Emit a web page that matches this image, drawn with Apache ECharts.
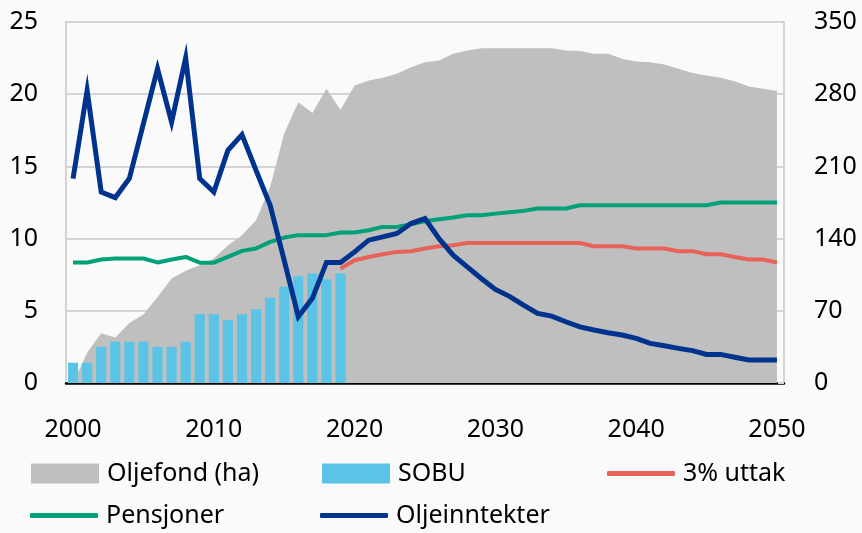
<!DOCTYPE html>
<html>
<head>
<meta charset="utf-8">
<script src="https://cdn.jsdelivr.net/npm/echarts@6/dist/echarts.min.js"></script>
<style>
  html, body { margin: 0; padding: 0; background: #fafafa; }
  #chart { width: 862px; height: 533px; }
</style>
</head>
<body>
<div id="chart"></div>
<script>
var years = [];
for (var y = 2000; y <= 2050; y++) years.push(String(y));

var leftTicks = [0, 5, 10, 15, 20, 25];
var rightTicks = [0, 70, 140, 210, 280, 350];

// Oljefond (ha), 2000-2050
var oljefond = [0, 2.1, 3.45, 3.15, 4.15, 4.75, 5.95, 7.24, 7.77, 8.16,
  8.62, 9.54, 10.24, 11.27, 13.58, 17.27, 19.45, 18.69, 20.38, 18.93,
  20.61, 20.95, 21.14, 21.42, 21.87, 22.22, 22.34, 22.8, 23.03, 23.19,
  23.19, 23.19, 23.19, 23.19, 23.19, 23.03, 23.0, 22.8, 22.8, 22.45,
  22.27, 22.22, 22.06, 21.76, 21.46, 21.3, 21.14, 20.9, 20.54, 20.38, 20.22];

// SOBU, 2000-2019
var sobu = [1.4, 1.4, 2.5, 2.86, 2.86, 2.86, 2.5, 2.5, 2.86, 4.77,
  4.77, 4.36, 4.77, 5.12, 5.9, 6.66, 7.4, 7.59, 7.19, 7.59];

// 3% uttak, from 2019
var uttak = [null, null, null, null, null, null, null, null, null, null,
  null, null, null, null, null, null, null, null, null, 7.93,
  8.5, 8.73, 8.92, 9.08, 9.12, 9.31, 9.47, 9.54, 9.7, 9.7,
  9.7, 9.7, 9.7, 9.7, 9.7, 9.7, 9.7, 9.47, 9.47, 9.47,
  9.31, 9.31, 9.31, 9.13, 9.13, 8.92, 8.92, 8.73, 8.55, 8.55, 8.35];

var pensjoner = [8.35, 8.35, 8.55, 8.62, 8.62, 8.62, 8.35, 8.55, 8.73, 8.33,
  8.33, 8.73, 9.15, 9.31, 9.77, 10.07, 10.24, 10.24, 10.24, 10.42,
  10.42, 10.58, 10.81, 10.81, 11.0, 11.2, 11.34, 11.46, 11.62, 11.62,
  11.73, 11.83, 11.92, 12.08, 12.08, 12.08, 12.31, 12.31, 12.31, 12.31,
  12.31, 12.31, 12.31, 12.31, 12.31, 12.31, 12.5, 12.5, 12.5, 12.5, 12.5];

var oljeinntekter = [14.16, 20.26, 13.23, 12.84, 14.16, 17.96, 21.76, 18.07, 22.52, 14.16,
  13.23, 16.11, 17.2, 14.73, 12.31, 8.5, 4.59, 5.86, 8.35, 8.35,
  9.08, 9.89, 10.12, 10.35, 11.04, 11.39, 10.0, 8.85, 8.04, 7.24,
  6.48, 6.0, 5.39, 4.82, 4.63, 4.24, 3.89, 3.67, 3.48, 3.32,
  3.09, 2.74, 2.58, 2.4, 2.24, 1.98, 1.98, 1.78, 1.59, 1.59, 1.59];

var font = "Noto Sans";
var gridGrey = "#d4d4d4";

// one legend per item so they sit in the same columns as the reference
function legendAt(name, left, top, icon, iconHeight) {
  return {
    data: [{ name: name, icon: icon }],
    left: left,
    top: top,
    padding: 0,
    itemWidth: 68,
    itemHeight: iconHeight,
    textStyle: { fontFamily: font, fontSize: 25, color: "#000", padding: [0, 0, 0, 3], lineHeight: 20 }
  };
}

var chart = echarts.init(document.getElementById("chart"));
chart.setOption({
  backgroundColor: "#fafafa",
  animation: false,
  grid: { left: 66, right: 78, top: 22, bottom: 150 },
  legend: [
    legendAt("Oljefond (ha)", 31, 461, "rect", 20),
    legendAt("SOBU", 322, 461, "rect", 20),
    legendAt("3% uttak", 607, 461, "roundRect", 5),
    legendAt("Pensjoner", 30, 503, "roundRect", 5),
    legendAt("Oljeinntekter", 320, 503, "roundRect", 5)
  ],
  xAxis: {
    type: "category",
    data: years,
    boundaryGap: true,
    axisLine: { lineStyle: { color: "#000", width: 2.5 } },
    axisTick: { inside: true, interval: 4, length: 9, lineStyle: { color: "#000", width: 2 } },
    axisLabel: { interval: 9, margin: 34, fontFamily: font, fontSize: 25, color: "#000" },
    splitLine: { show: false }
  },
  yAxis: [
    {
      type: "value",
      min: leftTicks[0],
      max: leftTicks[leftTicks.length - 1],
      interval: leftTicks[1] - leftTicks[0],
      axisLine: { show: true, lineStyle: { color: gridGrey, width: 2 } },
      axisTick: { show: false },
      axisLabel: { margin: 28, fontFamily: font, fontSize: 25, color: "#000" },
      splitLine: { lineStyle: { color: gridGrey, width: 2 } }
    },
    {
      type: "value",
      position: "right",
      min: rightTicks[0],
      max: rightTicks[rightTicks.length - 1],
      interval: rightTicks[1] - rightTicks[0],
      axisLine: { show: true, lineStyle: { color: gridGrey, width: 2 } },
      axisTick: { show: true, inside: true, length: 6, lineStyle: { color: gridGrey, width: 2 } },
      axisLabel: { margin: 30, fontFamily: font, fontSize: 25, color: "#000" },
      splitLine: { show: false }
    }
  ],
  series: [
    {
      name: "Oljefond (ha)",
      type: "line",
      data: oljefond,
      symbol: "none",
      color: "#bfbfbf",
      lineStyle: { width: 0 },
      areaStyle: { color: "#bfbfbf", opacity: 1 },
      z: 1
    },
    {
      name: "SOBU",
      type: "bar",
      data: sobu,
      color: "#5bc3e6",
      barCategoryGap: "28%",
      z: 2
    },
    {
      name: "3% uttak",
      type: "line",
      data: uttak,
      symbol: "none",
      color: "#e8625a",
      lineStyle: { width: 4 },
      z: 3
    },
    {
      name: "Pensjoner",
      type: "line",
      data: pensjoner,
      symbol: "none",
      color: "#00a078",
      lineStyle: { width: 4 },
      z: 4
    },
    {
      name: "Oljeinntekter",
      type: "line",
      data: oljeinntekter,
      symbol: "none",
      color: "#00338d",
      lineStyle: { width: 5, join: "miter" },
      z: 5
    }
  ]
});
</script>
</body>
</html>
